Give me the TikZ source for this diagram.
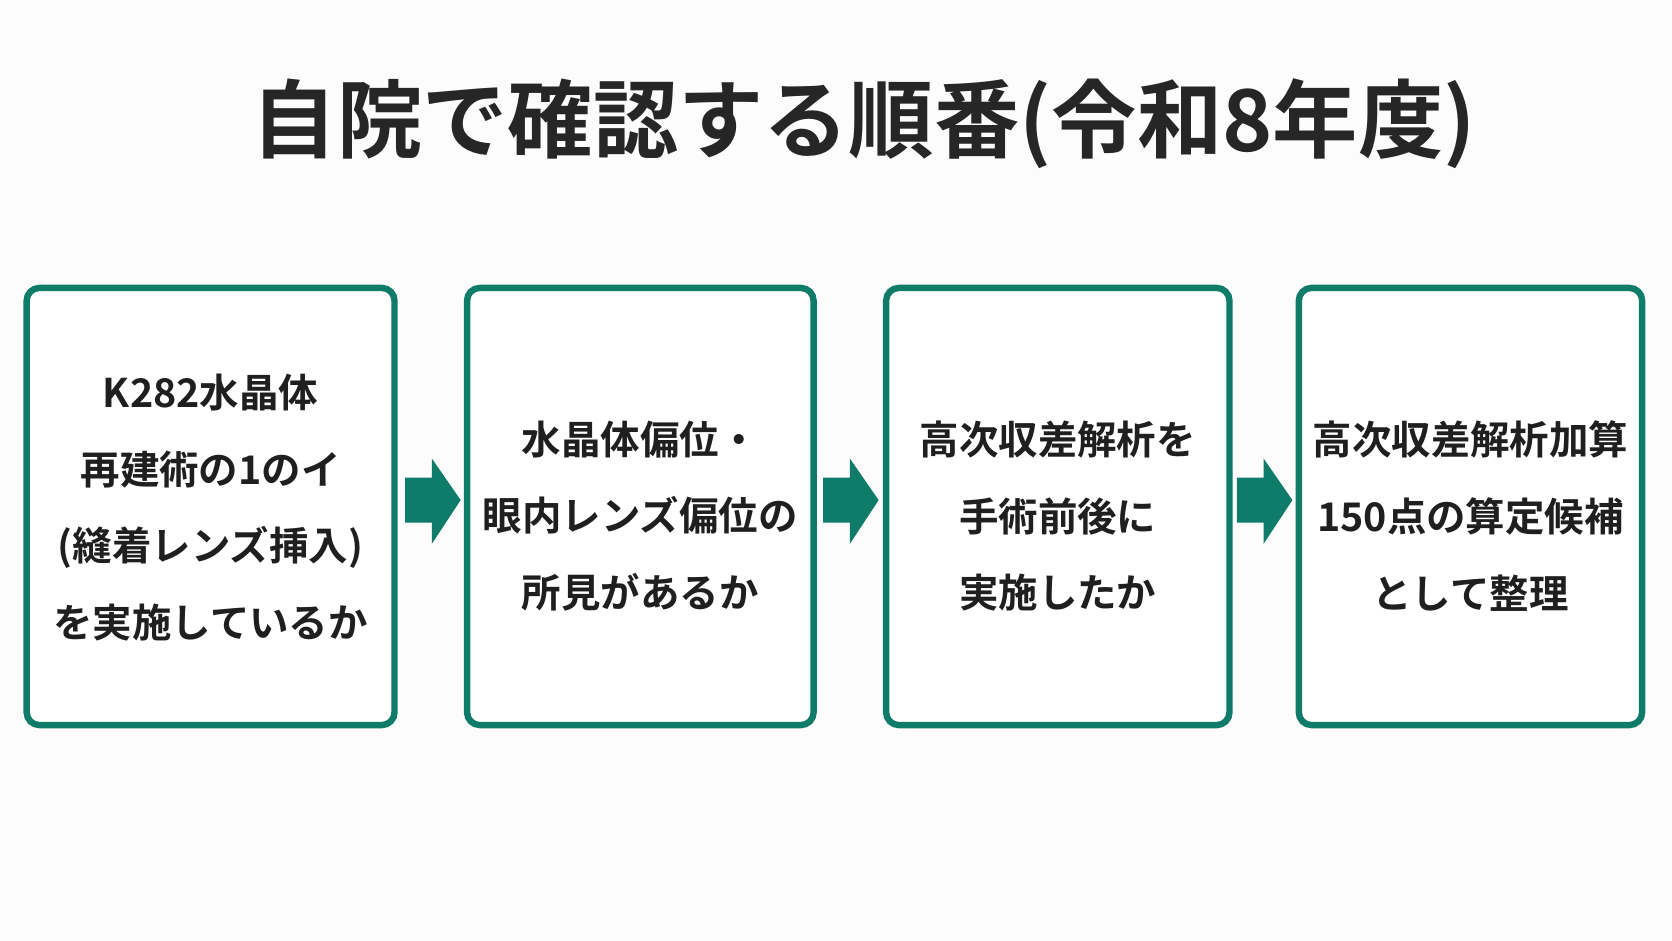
\documentclass[tikz,border=0pt]{standalone}
\usepackage{fontspec}
\newfontfamily\cjk{Noto Sans CJK JP}[BoldFont={* Bold}]
\definecolor{teal1}{RGB}{14,124,104}
\begin{document}
\begin{tikzpicture}[x=1pt,y=-1pt,
 box/.style={draw=teal1,line width=6pt,rounded corners=12pt,fill=white},
 txt/.style={font=\cjk\bfseries\fontsize{37}{72}\selectfont,align=center,text=black!88},
 arr/.style={fill=teal1}]
\fill[white!99!black] (0,0) rectangle (1568,882);
\useasboundingbox (0,0) rectangle (1568,882);
\node[font=\cjk\bfseries\fontsize{80}{90}\selectfont,text=black!85] (title) at (810,116) {自院で確認する順番(令和8年度)};
\draw[box] (25,270) rectangle (370,680); \node (b1) at (197.5,475) {};
\draw[box] (438,270) rectangle (763,680); \node (b2) at (600.5,475) {};
\draw[box] (831,270) rectangle (1153,680); \node (b3) at (992,475) {};
\draw[box] (1218,270) rectangle (1540,680); \node (b4) at (1379,475) {};
\node[txt] (t1) at (197.5,476) {K282水晶体\\再建術の1のイ\\(縫着レンズ挿入)\\を実施しているか};
\node[txt] (t2) at (600.5,484) {水晶体偏位・\\眼内レンズ偏位の\\所見があるか};
\node[txt] (t3) at (992,484) {高次収差解析を\\手術前後に\\実施したか};
\node[txt] (t4) at (1379,484) {高次収差解析加算\\150点の算定候補\\として整理};
\foreach \a in {380,772,1160}{
 \fill[arr] (\a,448) -- (\a+25,448) -- (\a+25,430) -- (\a+52,469) -- (\a+25,510) -- (\a+25,490) -- (\a,490) -- cycle;}
\end{tikzpicture}
\end{document}
